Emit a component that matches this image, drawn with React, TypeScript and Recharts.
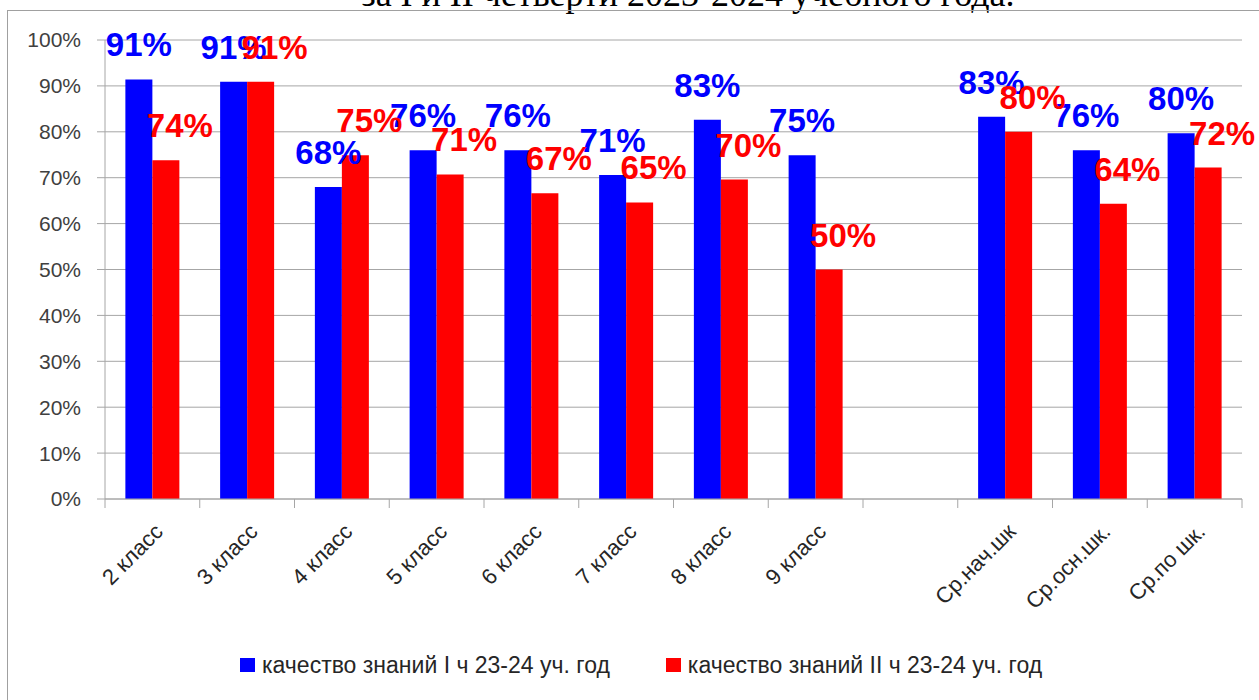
import { BarChart, Bar, XAxis, YAxis, CartesianGrid, LabelList } from "recharts";

const categories = [
  "2 класс",
  "3 класс",
  "4 класс",
  "5 класс",
  "6 класс",
  "7 класс",
  "8 класс",
  "9 класс",
  "",
  "Ср.нач.шк",
  "Ср.осн.шк.",
  "Ср.по шк.",
];
const firstTerm = [91.4, 90.9, 68.0, 76.0, 76.0, 70.6, 82.6, 74.9, null, 83.3, 76.0, 79.7];
const secondTerm = [73.8, 90.9, 74.9, 70.7, 66.6, 64.6, 69.6, 50.0, null, 80.0, 64.3, 72.2];
const yTicks = [0, 10, 20, 30, 40, 50, 60, 70, 80, 90, 100];
const seriesNames = ["качество знаний I ч 23-24 уч. год", "качество знаний II ч 23-24 уч. год"];
const title = "за I и II четверти 2023-2024 учебного года.";

const BLUE = "#0000ff";
const RED = "#ff0000";
const GRID = "#a6a6a6";
const FONT = "'Liberation Sans', Arial, sans-serif";

const W = 1259;
const H = 700;
const margin = { top: 40, right: 17, bottom: 81, left: 0 };
const yAxisWidth = 105;
const xAxisHeight = 120;
const plotWidth = W - margin.left - margin.right - yAxisWidth;
const step = plotWidth / categories.length;

const data = categories.map((name, i) => ({
  name,
  first: firstTerm[i],
  second: secondTerm[i],
}));

// data labels sit above the bar, red ones pushed a bit to the right like in Excel
const makeLabel = (color: string, dx: number) => (props: any) => {
  const { x, y, width, value } = props;
  if (value == null) return null;
  return (
    <text
      x={Number(x) + Number(width) / 2 + dx}
      y={Number(y) - 23}
      textAnchor="middle"
      fill={color}
      fontSize={33}
      fontWeight="bold"
      fontFamily={FONT}
    >
      {Math.round(value)}%
    </text>
  );
};

function XTick(props: any) {
  const { x, y, payload, index } = props;
  const tx = x + 12;
  const ty = y + 34;
  return (
    <g>
      <line x1={x - step / 2} y1={y} x2={x - step / 2} y2={y + 9} stroke={GRID} />
      {index === categories.length - 1 && (
        <line x1={x + step / 2} y1={y} x2={x + step / 2} y2={y + 9} stroke={GRID} />
      )}
      <text
        x={tx}
        y={ty}
        textAnchor="end"
        fontSize={22}
        fill="#262626"
        fontFamily={FONT}
        transform={`rotate(-45 ${tx} ${ty})`}
      >
        {payload.value}
      </text>
    </g>
  );
}

export default function App() {
  return (
    <div
      style={{
        position: "fixed",
        left: 0,
        top: 0,
        width: W,
        height: H,
        overflow: "hidden",
        background: "#fff",
      }}
    >
      <div
        style={{
          position: "absolute",
          left: 688,
          top: -24,
          transform: "translateX(-50%)",
          whiteSpace: "nowrap",
          fontFamily: "'Liberation Serif', 'Times New Roman', serif",
          fontSize: 36,
          lineHeight: "36px",
          color: "#000",
        }}
      >
        {title}
      </div>
      <div
        style={{
          position: "absolute",
          left: 7,
          top: 10,
          width: 1300,
          height: 800,
          border: "1px solid #a0a0a0",
        }}
      />
      <div style={{ position: "absolute", left: 0, top: 0 }}>
        <BarChart
          width={W}
          height={H}
          data={data}
          margin={margin}
          barCategoryGap="21.5%"
          barGap={0}
        >
          <CartesianGrid vertical={false} stroke={GRID} />
          <YAxis
            width={yAxisWidth}
            domain={[0, 100]}
            ticks={yTicks}
            interval={0}
            tickFormatter={(v: number) => `${v}%`}
            tick={{ fontSize: 21, fill: "#404040", fontFamily: FONT }}
            axisLine={{ stroke: GRID }}
            tickLine={{ stroke: GRID }}
            tickSize={8}
            tickMargin={16}
          />
          <XAxis
            dataKey="name"
            height={xAxisHeight}
            interval={0}
            axisLine={{ stroke: GRID }}
            tickLine={false}
            tickSize={0}
            tickMargin={0}
            tick={<XTick />}
          />
          <Bar dataKey="first" name={seriesNames[0]} fill={BLUE} isAnimationActive={false}>
            <LabelList dataKey="first" content={makeLabel(BLUE, 0)} />
          </Bar>
          <Bar dataKey="second" name={seriesNames[1]} fill={RED} isAnimationActive={false}>
            <LabelList dataKey="second" content={makeLabel(RED, 14)} />
          </Bar>
        </BarChart>
      </div>
      <div
        style={{
          position: "absolute",
          left: 240,
          top: 651,
          display: "flex",
          alignItems: "center",
          fontFamily: FONT,
          fontSize: 23,
          color: "#262626",
          lineHeight: "28px",
        }}
      >
        {seriesNames.map((n, i) => (
          <div
            key={n}
            style={{ display: "flex", alignItems: "center", marginRight: i === 0 ? 56 : 0 }}
          >
            <span
              style={{
                display: "inline-block",
                width: 15,
                height: 14,
                background: i === 0 ? BLUE : RED,
                marginRight: 7,
              }}
            />
            <span>{n}</span>
          </div>
        ))}
      </div>
    </div>
  );
}
